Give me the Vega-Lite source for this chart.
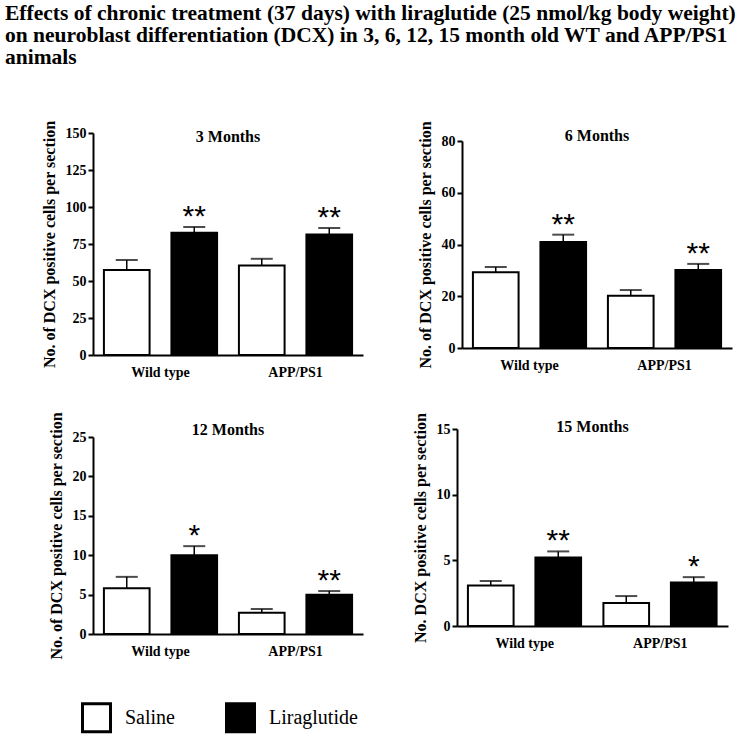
{
  "$schema": "https://vega.github.io/schema/vega-lite/v6.json",
  "padding": {"left": 4, "top": 2, "right": 5, "bottom": 5},
  "background": "white",
  "title": {
    "text": ["Effects of chronic treatment (37 days) with liraglutide (25 nmol/kg body weight)", "on neuroblast differentiation (DCX) in 3, 6, 12, 15 month old WT and APP/PS1", "animals"],
    "anchor": "start",
    "frame": "bounds",
    "font": "Liberation Serif",
    "fontSize": 21.5,
    "fontWeight": "bold",
    "lineHeight": 22,
    "color": "black",
    "offset": 52,
    "dx": -36
  },
  "datasets": {
    "dcx": [
      {"panel": "3 Months", "group": "Wild type", "treatment": "Saline", "value": 57.5, "upper": 64.2, "sig": ""},
      {"panel": "3 Months", "group": "Wild type", "treatment": "Liraglutide", "value": 82.6, "upper": 86.5, "sig": "**"},
      {"panel": "3 Months", "group": "APP/PS1", "treatment": "Saline", "value": 60.5, "upper": 65.0, "sig": ""},
      {"panel": "3 Months", "group": "APP/PS1", "treatment": "Liraglutide", "value": 81.5, "upper": 85.8, "sig": "**"},
      {"panel": "6 Months", "group": "Wild type", "treatment": "Saline", "value": 29.3, "upper": 31.3, "sig": ""},
      {"panel": "6 Months", "group": "Wild type", "treatment": "Liraglutide", "value": 41.0, "upper": 43.8, "sig": "**"},
      {"panel": "6 Months", "group": "APP/PS1", "treatment": "Saline", "value": 20.2, "upper": 22.4, "sig": ""},
      {"panel": "6 Months", "group": "APP/PS1", "treatment": "Liraglutide", "value": 30.1, "upper": 32.5, "sig": "**"},
      {"panel": "12 Months", "group": "Wild type", "treatment": "Saline", "value": 5.8, "upper": 7.25, "sig": ""},
      {"panel": "12 Months", "group": "Wild type", "treatment": "Liraglutide", "value": 10.0, "upper": 11.15, "sig": "*"},
      {"panel": "12 Months", "group": "APP/PS1", "treatment": "Saline", "value": 2.7, "upper": 3.17, "sig": ""},
      {"panel": "12 Months", "group": "APP/PS1", "treatment": "Liraglutide", "value": 4.98, "upper": 5.45, "sig": "**"},
      {"panel": "15 Months", "group": "Wild type", "treatment": "Saline", "value": 3.09, "upper": 3.42, "sig": ""},
      {"panel": "15 Months", "group": "Wild type", "treatment": "Liraglutide", "value": 5.22, "upper": 5.68, "sig": "**"},
      {"panel": "15 Months", "group": "APP/PS1", "treatment": "Saline", "value": 1.75, "upper": 2.28, "sig": ""},
      {"panel": "15 Months", "group": "APP/PS1", "treatment": "Liraglutide", "value": 3.32, "upper": 3.72, "sig": "*"}
    ]
  },
  "config": {
    "view": {"stroke": null},
    "font": "Liberation Serif",
    "axis": {
      "grid": false,
      "domainColor": "black",
      "domainWidth": 2,
      "tickColor": "black",
      "tickWidth": 2,
      "labelFont": "Liberation Serif",
      "labelFontWeight": "bold",
      "labelFontSize": 14,
      "labelColor": "black",
      "labelOverlap": false,
      "titleFont": "Liberation Serif",
      "titleFontWeight": "bold",
      "titleFontSize": 16,
      "titleColor": "black"
    },
    "axisX": {"ticks": false, "labelAngle": 0, "labelPadding": 10, "title": null},
    "axisY": {"tickSize": 5, "labelPadding": 2, "titlePadding": 8},
    "title": {"font": "Liberation Serif", "fontWeight": "bold", "fontSize": 16, "color": "black", "frame": "group", "offset": 0},
    "legend": {
      "orient": "none",
      "direction": "horizontal",
      "legendX": -12,
      "legendY": 569,
      "title": null,
      "symbolType": "square",
      "symbolSize": 784,
      "symbolStrokeColor": "black",
      "symbolStrokeWidth": 3,
      "labelFont": "Liberation Serif",
      "labelFontSize": 20,
      "labelColor": "black",
      "labelOffset": 13,
      "columnPadding": 45
    }
  },
  "vconcat": [
    {
      "hconcat": [
        {
          "width": 270, "height": 222,
          "title": {"text": "3 Months", "dy": 29},
          "data": {"name": "dcx"},
          "transform": [{"filter": "datum.panel === '3 Months'"}],
          "encoding": {
            "x": {"field": "group", "type": "nominal", "sort": ["Wild type", "APP/PS1"], "scale": {"paddingInner": 0, "paddingOuter": 0}},
            "xOffset": {"field": "treatment", "type": "nominal", "sort": ["Saline", "Liraglutide"], "scale": {"paddingInner": 0.3235, "paddingOuter": 0.1618}}
          },
          "layer": [
            {"mark": {"type": "bar", "stroke": "black", "strokeWidth": 2},
             "encoding": {
               "y": {"field": "value", "type": "quantitative", "scale": {"domain": [0, 150]}, "axis": {"values": [0, 25, 50, 75, 100, 125, 150], "title": "No. of DCX positive cells per section"}},
               "fill": {"field": "treatment", "type": "nominal", "sort": ["Saline", "Liraglutide"], "scale": {"domain": ["Saline", "Liraglutide"], "range": ["white", "black"]}}
             }},
            {"mark": {"type": "rule", "color": "black", "strokeWidth": 1.5}, "encoding": {"y": {"field": "value", "type": "quantitative", "scale": {"domain": [0, 150]}, "axis": {"values": [0, 25, 50, 75, 100, 125, 150], "title": "No. of DCX positive cells per section"}}, "y2": {"field": "upper"}}},
            {"mark": {"type": "tick", "color": "black", "thickness": 2, "size": 22}, "encoding": {"y": {"field": "upper", "type": "quantitative", "scale": {"domain": [0, 150]}, "axis": {"values": [0, 25, 50, 75, 100, 125, 150], "title": "No. of DCX positive cells per section"}}}},
            {"mark": {"type": "text", "font": "Liberation Sans", "fontSize": 30, "baseline": "alphabetic", "dy": -1, "color": "black"}, "encoding": {"y": {"field": "upper", "type": "quantitative", "scale": {"domain": [0, 150]}, "axis": {"values": [0, 25, 50, 75, 100, 125, 150], "title": "No. of DCX positive cells per section"}}, "text": {"field": "sig"}}}
          ]
        },
        {
          "width": 270, "height": 215,
          "title": {"text": "6 Months", "dy": 27.5},
          "data": {"name": "dcx"},
          "transform": [{"filter": "datum.panel === '6 Months'"}],
          "encoding": {
            "x": {"field": "group", "type": "nominal", "sort": ["Wild type", "APP/PS1"], "scale": {"paddingInner": 0, "paddingOuter": 0}},
            "xOffset": {"field": "treatment", "type": "nominal", "sort": ["Saline", "Liraglutide"], "scale": {"paddingInner": 0.3235, "paddingOuter": 0.1618}}
          },
          "layer": [
            {"mark": {"type": "bar", "stroke": "black", "strokeWidth": 2},
             "encoding": {
               "y": {"field": "value", "type": "quantitative", "scale": {"domain": [0, 80], "range": [215, 8]}, "axis": {"values": [0, 20, 40, 60, 80], "title": "No. of DCX positive cells per section"}},
               "fill": {"field": "treatment", "type": "nominal", "sort": ["Saline", "Liraglutide"], "scale": {"domain": ["Saline", "Liraglutide"], "range": ["white", "black"]}}
             }},
            {"mark": {"type": "rule", "color": "black", "strokeWidth": 1.5}, "encoding": {"y": {"field": "value", "type": "quantitative", "scale": {"domain": [0, 80], "range": [215, 8]}, "axis": {"values": [0, 20, 40, 60, 80], "title": "No. of DCX positive cells per section"}}, "y2": {"field": "upper"}}},
            {"mark": {"type": "tick", "color": "black", "thickness": 2, "size": 22}, "encoding": {"y": {"field": "upper", "type": "quantitative", "scale": {"domain": [0, 80], "range": [215, 8]}, "axis": {"values": [0, 20, 40, 60, 80], "title": "No. of DCX positive cells per section"}}}},
            {"mark": {"type": "text", "font": "Liberation Sans", "fontSize": 30, "baseline": "alphabetic", "dy": -1, "color": "black"}, "encoding": {"y": {"field": "upper", "type": "quantitative", "scale": {"domain": [0, 80], "range": [215, 8]}, "axis": {"values": [0, 20, 40, 60, 80], "title": "No. of DCX positive cells per section"}}, "text": {"field": "sig"}}}
          ]
        }
      ],
      "spacing": 53
    },
    {
      "hconcat": [
        {
          "width": 270, "height": 205,
          "title": {"text": "12 Months", "dy": 30.5},
          "data": {"name": "dcx"},
          "transform": [{"filter": "datum.panel === '12 Months'"}],
          "encoding": {
            "x": {"field": "group", "type": "nominal", "sort": ["Wild type", "APP/PS1"], "scale": {"paddingInner": 0, "paddingOuter": 0}},
            "xOffset": {"field": "treatment", "type": "nominal", "sort": ["Saline", "Liraglutide"], "scale": {"paddingInner": 0.3235, "paddingOuter": 0.1618}}
          },
          "layer": [
            {"mark": {"type": "bar", "stroke": "black", "strokeWidth": 2},
             "encoding": {
               "y": {"field": "value", "type": "quantitative", "scale": {"domain": [0, 25], "range": [205, 8]}, "axis": {"values": [0, 5, 10, 15, 20, 25], "title": "No. of DCX positive cells per section"}},
               "fill": {"field": "treatment", "type": "nominal", "sort": ["Saline", "Liraglutide"], "scale": {"domain": ["Saline", "Liraglutide"], "range": ["white", "black"]}}
             }},
            {"mark": {"type": "rule", "color": "black", "strokeWidth": 1.5}, "encoding": {"y": {"field": "value", "type": "quantitative", "scale": {"domain": [0, 25], "range": [205, 8]}, "axis": {"values": [0, 5, 10, 15, 20, 25], "title": "No. of DCX positive cells per section"}}, "y2": {"field": "upper"}}},
            {"mark": {"type": "tick", "color": "black", "thickness": 2, "size": 22}, "encoding": {"y": {"field": "upper", "type": "quantitative", "scale": {"domain": [0, 25], "range": [205, 8]}, "axis": {"values": [0, 5, 10, 15, 20, 25], "title": "No. of DCX positive cells per section"}}}},
            {"mark": {"type": "text", "font": "Liberation Sans", "fontSize": 30, "baseline": "alphabetic", "dy": -1, "color": "black"}, "encoding": {"y": {"field": "upper", "type": "quantitative", "scale": {"domain": [0, 25], "range": [205, 8]}, "axis": {"values": [0, 5, 10, 15, 20, 25], "title": "No. of DCX positive cells per section"}}, "text": {"field": "sig"}}}
          ]
        },
        {
          "width": 271, "height": 197,
          "title": {"text": "15 Months", "dy": 26.5},
          "data": {"name": "dcx"},
          "transform": [{"filter": "datum.panel === '15 Months'"}],
          "encoding": {
            "x": {"field": "group", "type": "nominal", "sort": ["Wild type", "APP/PS1"], "scale": {"paddingInner": 0, "paddingOuter": 0}},
            "xOffset": {"field": "treatment", "type": "nominal", "sort": ["Saline", "Liraglutide"], "scale": {"paddingInner": 0.3235, "paddingOuter": 0.1618}}
          },
          "layer": [
            {"mark": {"type": "bar", "stroke": "black", "strokeWidth": 2},
             "encoding": {
               "y": {"field": "value", "type": "quantitative", "scale": {"domain": [0, 15]}, "axis": {"values": [0, 5, 10, 15], "title": "No. DCX positive cells per section"}},
               "fill": {"field": "treatment", "type": "nominal", "sort": ["Saline", "Liraglutide"], "scale": {"domain": ["Saline", "Liraglutide"], "range": ["white", "black"]}}
             }},
            {"mark": {"type": "rule", "color": "black", "strokeWidth": 1.5}, "encoding": {"y": {"field": "value", "type": "quantitative", "scale": {"domain": [0, 15]}, "axis": {"values": [0, 5, 10, 15], "title": "No. DCX positive cells per section"}}, "y2": {"field": "upper"}}},
            {"mark": {"type": "tick", "color": "black", "thickness": 2, "size": 22}, "encoding": {"y": {"field": "upper", "type": "quantitative", "scale": {"domain": [0, 15]}, "axis": {"values": [0, 5, 10, 15], "title": "No. DCX positive cells per section"}}}},
            {"mark": {"type": "text", "font": "Liberation Sans", "fontSize": 30, "baseline": "alphabetic", "dy": -1, "color": "black"}, "encoding": {"y": {"field": "upper", "type": "quantitative", "scale": {"domain": [0, 15]}, "axis": {"values": [0, 5, 10, 15], "title": "No. DCX positive cells per section"}}, "text": {"field": "sig"}}}
          ]
        }
      ],
      "spacing": 49
    }
  ],
  "spacing": 32
}
